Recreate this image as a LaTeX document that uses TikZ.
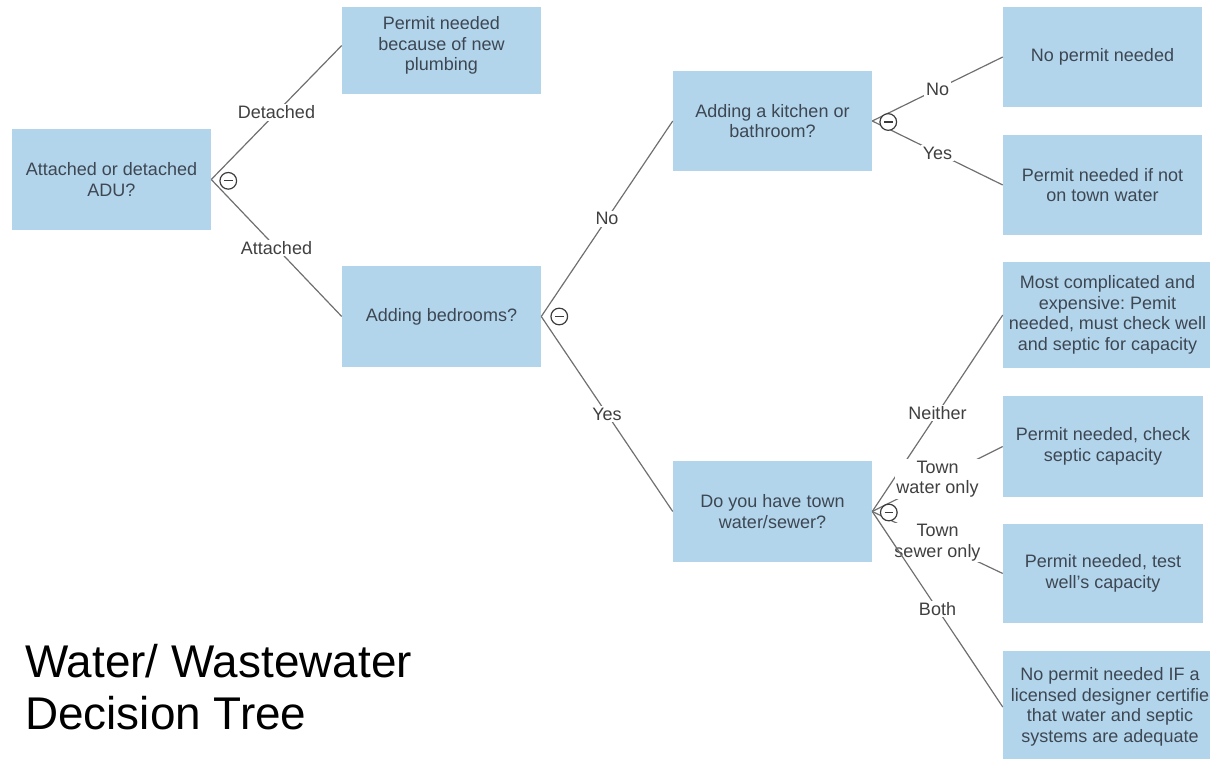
\documentclass[tikz,border=0pt]{standalone}
\usepackage{fontspec}
\setmainfont{Liberation Sans}
\frenchspacing
\definecolor{boxblue}{RGB}{179,213,236}
\definecolor{boxtext}{RGB}{61,71,82}
\definecolor{linegray}{RGB}{112,112,112}
\definecolor{labeltext}{RGB}{64,64,64}
\definecolor{togglegray}{RGB}{60,60,60}
\newcommand{\bxfont}{\fontsize{13.5}{15.4}\selectfont}
\newcommand{\ttlfont}{\fontsize{34.4}{40}\selectfont}
\begin{document}
\begin{tikzpicture}[x=0.75pt,y=-0.75pt,
  box/.style={fill=boxblue, draw=none, inner sep=0pt, minimum width=149.25pt,
    minimum height=75pt, align=center, text=boxtext, font=\bxfont},
  txt/.style={inner sep=0pt, align=center, text=boxtext, font=\bxfont},
  conn/.style={draw=linegray, line width=0.9pt},
  lbl/.style={fill=white, inner sep=1.2pt, align=center, text=labeltext, font=\bxfont},
  toggle/.style={circle, draw=togglegray, fill=white, line width=0.9pt,
    minimum size=12.5pt, inner sep=0pt,
    path picture={\draw[togglegray, line width=0.9pt]
      ([xshift=-3.2pt]path picture bounding box.center) --
      ([xshift=3.2pt]path picture bounding box.center);}},
  ttl/.style={anchor=base west, inner sep=0pt, font=\ttlfont, text=black}]
\useasboundingbox (0,0) rectangle (1210,759);
\clip (0,0) rectangle (1210,759);

% boxes
\node[box, minimum height=75.75pt] (A) at (111.5,179.5) {Attached or detached\\ADU?};
\node[box, minimum height=65.25pt] (B) at (441.5,50.5) {};
\node[txt] (Bt) at (441.5,45.5) {Permit needed\\because of new\\plumbing};
\node[box, minimum height=75.75pt] (C) at (441.5,316.5) {Adding bedrooms?};
\node[box] (D) at (772.5,121) {Adding a kitchen or\\bathroom?};
\node[box, minimum height=75.75pt] (E) at (772.5,511.5) {Do you have town\\water/sewer?};
\node[box] (R1) at (1102.5,57) {No permit needed};
\node[box] (R2) at (1102.5,185) {Permit needed if not\\on town water};
\node[box, minimum width=156.75pt, minimum height=79.5pt] (R3) at (1107.5,315)
  {Most complicated and\\expensive: Pemit\\needed, must check well\\and septic for capacity};
\node[box, minimum width=150pt, minimum height=75.75pt] (R4) at (1103,446.5)
  {Permit needed, check\\septic capacity};
\node[box, minimum width=150pt, minimum height=74.25pt] (R5) at (1103,573.5)
  {Permit needed, test\\well's capacity};
\node[box, minimum width=160.5pt, minimum height=84pt] (R6) at (1110,707)
  {No permit needed IF a\\licensed designer certifie\\that water and septic\\systems are adequate};

% connectors
\draw[conn] (A.east) -- node[lbl] (l1) {Detached} (Bt -| B.west);
\draw[conn] (A.east) -- node[lbl] (l2) {Attached} (C.west);
\draw[conn] (C.east) -- node[lbl] (l3) {No} (D.west);
\draw[conn] (C.east) -- node[lbl] (l4) {Yes} (E.west);
\draw[conn] (D.east) -- node[lbl] (l5) {No} (R1.west);
\draw[conn] (D.east) -- node[lbl] (l6) {Yes} (R2.west);
\draw[conn] (E.east) -- node[lbl] (l7) {Neither} (R3.west);
\draw[conn] (E.east) -- node[lbl] (l8) {Town\\water only} (R4.west);
\draw[conn] (E.east) -- node[lbl] (l9) {Town\\sewer only} (R5.west);
\draw[conn] (E.east) -- node[lbl] (l10) {Both} (R6.west);

% collapse toggles
\node[toggle] (tA) at ([xshift=12.75pt,yshift=-1pt]A.east) {};
\node[toggle] (tC) at ([xshift=13.5pt]C.east) {};
\node[toggle] (tD) at ([xshift=12pt,yshift=-0.75pt]D.east) {};
\node[toggle] (tE) at ([xshift=12.4pt,yshift=-0.75pt]E.east) {};

% title
\node[ttl] (T1) at (25,677) {Water/ Wastewater};
\node[ttl] (T2) at (25,729) {Decision Tree};
\end{tikzpicture}
\end{document}
